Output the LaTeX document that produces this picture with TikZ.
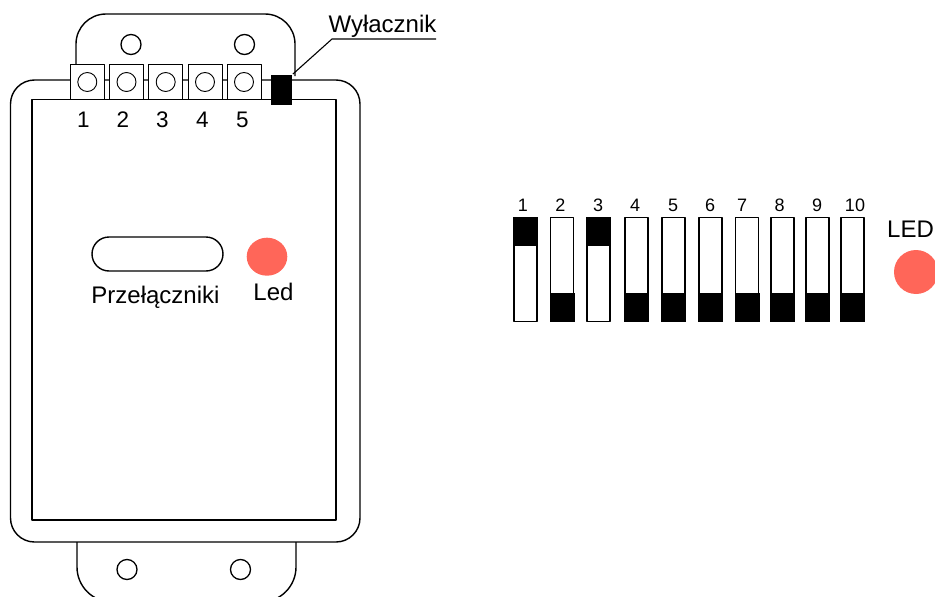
\documentclass[tikz,border=0pt]{standalone}
\usepackage{fontspec}
\setmainfont{Liberation Sans}
\usetikzlibrary{shapes.geometric}
\definecolor{ledred}{HTML}{FF6659}
\tikzset{
  lab/.style={anchor=base,inner sep=0pt,font=\fontsize{24}{26}\selectfont},
  numlab/.style={anchor=base,inner sep=0pt,font=\fontsize{22.5}{24}\selectfont},
  diplab/.style={anchor=base,inner sep=0pt,font=\fontsize{18}{20}\selectfont},
  hole/.style={circle,draw,fill=white,inner sep=0pt,minimum size=20pt,line width=1.3pt},
  termbox/.style={rectangle,draw,fill=white,inner sep=0pt,minimum width=34pt,minimum height=35pt,line width=1pt},
  termhole/.style={circle,draw,fill=white,inner sep=0pt,minimum size=19pt,line width=0.9pt},
  dipbox/.style={rectangle,draw,fill=white,inner sep=0pt,minimum width=23pt,minimum height=104pt,line width=1.8pt},
  dipknob/.style={rectangle,fill=black,inner sep=0pt,minimum width=25pt,minimum height=28.5pt},
  ledspot/.style={ellipse,fill=ledred,inner sep=0pt},
}
\begin{document}
\begin{tikzpicture}[x=1pt,y=-1pt,line width=1.4pt,line join=round]
\useasboundingbox (0,0) rectangle (935,597);
\begin{scope}
\clip (0,0) rectangle (935,597);
% top tab
\draw[rounded corners=30pt] (76,64) -- (76,14) -- (295,14) -- (295,76);
% bottom tab
\draw[rounded corners=35pt] (77,542) -- (77,602) -- (296,602) -- (296,542);
% body
\draw[rounded corners=24pt] (10.5,80) rectangle (360,542);
\node[rectangle,draw,inner sep=0pt,minimum width=304pt,minimum height=420.5pt] (panel) at (184,309.7) {};
% mounting holes
\node[hole] (h1) at (131,44.5) {};
\node[hole] (h2) at (244.5,44.5) {};
\node[hole] (h3) at (127,569.5) {};
\node[hole] (h4) at (240.5,569.5) {};
% terminals
\foreach \i/\cx/\tx in {1/87.3/83.5,2/126.5/123,3/165.7/162.5,4/205/202.5,5/244/242.5}{
  \node[termbox] (t\i) at (\cx,81.7) {};
  \node[termhole] (th\i) at (\cx,82) {};
  \node[numlab] (tl\i) at (\tx,127) {\i};
}
% switch and leader
\node[rectangle,fill=black,inner sep=0pt,minimum width=21.5pt,minimum height=30pt] (sw) at (281.5,89.7) {};
\node[lab] (wyl) at (382.5,32.5) {Wyłacznik};
\coordinate (elbow) at (332,39);
\coordinate (ulend) at (436,39);
\draw[line width=1.1pt] (sw.north east) -- (elbow) -- (ulend);
% pill and LED
\node[rectangle,draw,rounded corners=17pt,inner sep=0pt,minimum width=131pt,minimum height=34pt] (pill) at (157.5,254) {};
\node[lab] (przel) at (155.5,303.5) {Przełączniki};
\node[ledspot,minimum width=40.6pt,minimum height=38pt] (led) at (267,256.7) {};
\node[lab] (ledl) at (273.5,300.5) {Led};
% DIP switches
\foreach \i/\cx/\tx in {1/525.2/523,2/562/560.5,3/598.7/598,4/636.2/635,5/673.2/673,6/710.5/710,7/747/742,8/782.5/779.5,9/817.5/817,10/852.5/855}{
  \node[dipbox] (d\i) at (\cx,269.5) {};
  \node[diplab] (dl\i) at (\tx,211) {\i};
}
\foreach \i in {1,3}{
  \node[dipknob,anchor=north] (k\i) at (d\i.north) {};
}
\foreach \i in {2,4,5,6,7,8,9,10}{
  \node[dipknob,anchor=south] (k\i) at (d\i.south) {};
}
\node[lab] (ledr) at (910.5,237.5) {LED};
\node[circle,fill=ledred,inner sep=0pt,minimum size=44pt] (led2) at (916,272) {};
\end{scope}
\end{tikzpicture}
\end{document}
